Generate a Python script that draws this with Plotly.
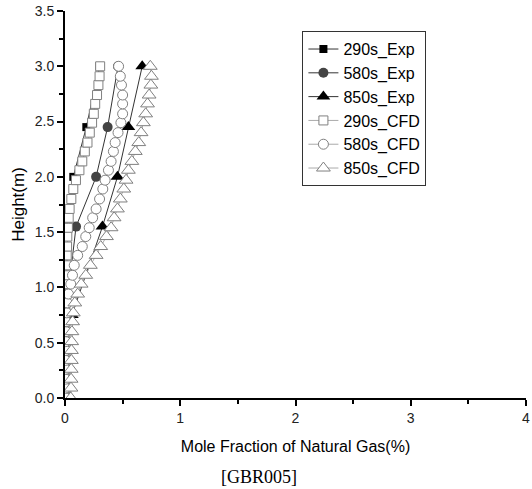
import plotly.graph_objects as go

# Experimental data (height in m, mole fraction in %)
exp_height = [3.0, 2.45, 2.0, 1.55, 0.75]
exp_290 = [0.30, 0.185, 0.072, 0.025, 0.005]
exp_580 = [0.46, 0.37, 0.27, 0.096, 0.005]
exp_850 = [0.67, 0.55, 0.455, 0.325, 0.06]

# CFD data
cfd_height = [0.00, 0.09, 0.17, 0.26, 0.34, 0.43, 0.51, 0.60, 0.69, 0.77,
              0.86, 0.94, 1.03, 1.11, 1.20, 1.29, 1.37, 1.46, 1.54, 1.63,
              1.71, 1.80, 1.89, 1.97, 2.06, 2.14, 2.23, 2.31, 2.40, 2.49,
              2.57, 2.66, 2.74, 2.83, 2.91, 3.00]
cfd_290 = [0.005, 0.005, 0.005, 0.005, 0.005, 0.005, 0.005, 0.005, 0.005, 0.005,
           0.005, 0.007, 0.008, 0.010, 0.012, 0.015, 0.018, 0.020, 0.025, 0.032,
           0.040, 0.055, 0.072, 0.095, 0.125, 0.150, 0.172, 0.195, 0.215, 0.235,
           0.250, 0.262, 0.278, 0.290, 0.300, 0.305]
cfd_580 = [0.005, 0.005, 0.005, 0.005, 0.005, 0.005, 0.006, 0.008, 0.010, 0.015,
           0.020, 0.030, 0.050, 0.065, 0.080, 0.110, 0.150, 0.180, 0.210, 0.240,
           0.270, 0.300, 0.328, 0.348, 0.377, 0.400, 0.420, 0.435, 0.460, 0.485,
           0.500, 0.500, 0.500, 0.490, 0.480, 0.465]
cfd_850 = [0.050, 0.052, 0.053, 0.054, 0.055, 0.056, 0.058, 0.060, 0.066, 0.072,
           0.085, 0.110, 0.140, 0.180, 0.220, 0.270, 0.310, 0.360, 0.400, 0.426,
           0.455, 0.480, 0.510, 0.530, 0.550, 0.580, 0.610, 0.640, 0.660, 0.680,
           0.700, 0.716, 0.730, 0.745, 0.750, 0.740]

fig = go.Figure()

exp_line = dict(color="#333333", width=1)
cfd_line = dict(color="#aaaaaa", width=1)
cfd_edge = dict(color="#808080", width=1)

fig.add_trace(go.Scatter(x=exp_290, y=exp_height, name="290s_Exp", mode="lines+markers",
                         line=exp_line,
                         marker=dict(symbol="square", size=8, color="black")))
fig.add_trace(go.Scatter(x=exp_580, y=exp_height, name="580s_Exp", mode="lines+markers",
                         line=exp_line,
                         marker=dict(symbol="circle", size=10, color="#444444")))
fig.add_trace(go.Scatter(x=exp_850, y=exp_height, name="850s_Exp", mode="lines+markers",
                         line=exp_line,
                         marker=dict(symbol="triangle-up", size=12, color="black")))
fig.add_trace(go.Scatter(x=cfd_290, y=cfd_height, name="290s_CFD", mode="lines+markers",
                         line=cfd_line,
                         marker=dict(symbol="square", size=9, color="white", line=cfd_edge)))
fig.add_trace(go.Scatter(x=cfd_580, y=cfd_height, name="580s_CFD", mode="lines+markers",
                         line=cfd_line,
                         marker=dict(symbol="circle", size=10, color="white", line=cfd_edge)))
fig.add_trace(go.Scatter(x=cfd_850, y=cfd_height, name="850s_CFD", mode="lines+markers",
                         line=cfd_line,
                         marker=dict(symbol="triangle-up", size=12, color="white", line=cfd_edge)))

axis_common = dict(showline=True, linecolor="black", linewidth=2, ticks="outside",
                   tickcolor="black", tickwidth=2, ticklen=6, showgrid=False,
                   zeroline=False, mirror=False, automargin=False,
                   tickfont=dict(family="Liberation Sans, Arial", size=14, color="#222222"))

fig.update_xaxes(range=[0, 4], dtick=1, tick0=0,
                 minor=dict(ticks="outside", dtick=0.5, ticklen=4, tickcolor="black", tickwidth=2),
                 title=dict(text="Mole Fraction of Natural Gas(%)",
                            font=dict(family="Liberation Sans, Arial", size=16, color="black"),
                            standoff=16),
                 **axis_common)
fig.update_yaxes(range=[0, 3.5], dtick=0.5, tick0=0, tickformat=".1f",
                 minor=dict(ticks="outside", dtick=0.25, ticklen=4, tickcolor="black", tickwidth=2),
                 title=dict(text="Height(m)",
                            font=dict(family="Liberation Sans, Arial", size=17, color="black"),
                            standoff=6),
                 **axis_common)

fig.add_annotation(text="[GBR005]", xref="paper", yref="paper", x=0.42, y=-0.205,
                   xanchor="center", yanchor="middle", showarrow=False,
                   font=dict(family="Liberation Serif, Times New Roman", size=18, color="black"))

fig.update_layout(
    width=532, height=489,
    margin=dict(l=65, r=6, t=11, b=91),
    plot_bgcolor="white", paper_bgcolor="white",
    legend=dict(x=0.515, y=0.948, xanchor="left", yanchor="top",
                bordercolor="#333333", borderwidth=1, bgcolor="white",
                font=dict(family="Liberation Sans, Arial", size=16, color="black"),
                tracegroupgap=0, itemwidth=30),
    showlegend=True,
)

fig.write_html("out.html")
